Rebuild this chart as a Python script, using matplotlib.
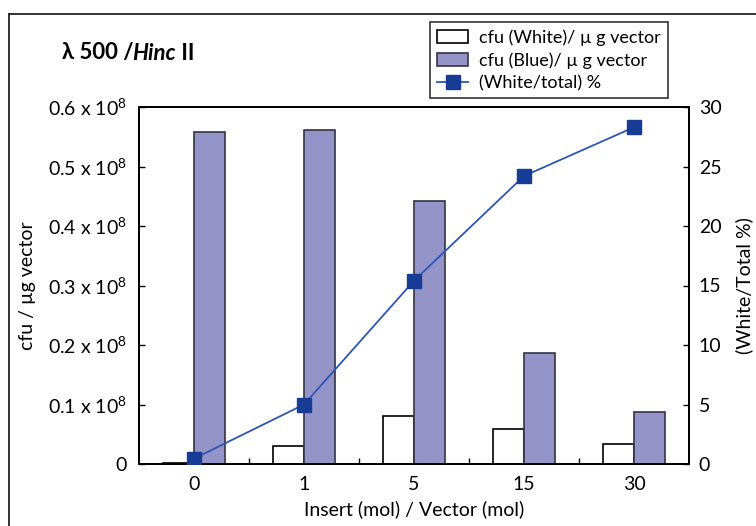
import numpy as np
import matplotlib
matplotlib.use("Agg")
import matplotlib.pyplot as plt
from matplotlib.lines import Line2D
from matplotlib.patches import Patch

plt.rcParams['font.family'] = ['Lato', 'DejaVu Sans']
plt.rcParams['mathtext.fontset'] = 'custom'
plt.rcParams['mathtext.rm'] = 'Lato'
plt.rcParams['mathtext.it'] = 'Lato:italic'
plt.rcParams['mathtext.bf'] = 'Lato:bold'

# ---- data (cfu in units of 1e8 per ug vector) ----
categories = ["0", "1", "5", "15", "30"]
cfu_white = [0.001, 0.030, 0.081, 0.058, 0.034]
cfu_blue = [0.558, 0.561, 0.442, 0.187, 0.087]
white_pct = [0.45, 5.0, 15.4, 24.2, 28.3]
left_ticks = [0, 0.1, 0.2, 0.3, 0.4, 0.5, 0.6]
left_labels = ["0"] + [f"{v:.1f} x 10$^{{\\mathrm{{8}}}}$" for v in left_ticks[1:]]
right_ticks = [0, 5, 10, 15, 20, 25, 30]

BLUE_FILL = "#9494c8"
MARK = "#163c96"
LINE = "#2a56b8"

fig = plt.figure(figsize=(7.56, 5.26), dpi=100)
ax = fig.add_axes([139 / 756, 62 / 526, 550 / 756, 357 / 526])
ax2 = ax.twinx()

x = np.arange(len(categories))
w = 0.28
ax.bar(x - w / 2, cfu_white, w, color="white", edgecolor="black", linewidth=1.2)
ax.bar(x + w / 2, cfu_blue, w, color=BLUE_FILL, edgecolor="#333344", linewidth=1.2)
ax2.plot(x, white_pct, color=LINE, linewidth=1.3, marker="s", markersize=10,
         markerfacecolor=MARK, markeredgecolor=MARK, zorder=5)

ax.set_xlim(-0.5, len(categories) - 0.5)
ax.set_ylim(0, 0.6)
ax2.set_ylim(0, 30)

ax.set_xticks(x)
ax.set_xticklabels(categories, fontsize=14)
ax.set_xticks(np.arange(0.5, len(categories) - 1, 1), minor=True)
ax.tick_params(axis="x", which="major", length=0, pad=9)
ax.tick_params(axis="x", which="minor", direction="in", length=4, width=1)

ax.set_yticks(left_ticks)
ax.set_yticklabels(left_labels, fontsize=14)
ax.tick_params(axis="y", direction="in", length=4, width=1, pad=9)
ax2.set_yticks(right_ticks)
ax2.tick_params(axis="y", direction="in", length=4, width=1, pad=7, labelsize=14)

for a in (ax, ax2):
    for s in a.spines.values():
        s.set_linewidth(1.3)

ax.set_xlabel("Insert (mol) / Vector (mol)", fontsize=14, labelpad=5)
ax.set_ylabel("cfu / µg vector", fontsize=14, labelpad=8)
ax2.set_ylabel("(White/Total %)", fontsize=14, labelpad=10)

# legend
handles = [
    Patch(facecolor="white", edgecolor="black", linewidth=1.2),
    Patch(facecolor=BLUE_FILL, edgecolor="#333344", linewidth=1.2),
    Line2D([], [], color=LINE, linewidth=1.3, marker="s", markersize=10,
           markerfacecolor=MARK, markeredgecolor=MARK),
]
labels = ["cfu (White)/ µ g vector", "cfu (Blue)/ µ g vector", "(White/total) %"]
leg = fig.legend(handles, labels, loc="upper left",
                 bbox_to_anchor=(430 / 756, 1 - 22 / 526), fontsize=13,
                 fancybox=False, framealpha=1, edgecolor="#333333",
                 handlelength=1.7, handleheight=0.7, labelspacing=0.35,
                 borderpad=0.4, handletextpad=0.6, borderaxespad=0)
leg.get_frame().set_linewidth(1.2)

# title in pieces: bold, bold italic, bold
t1 = fig.text(62 / 756, 1 - 53 / 526, "λ 500 /", fontsize=16, fontweight="bold",
              va="center", ha="left")
t2 = fig.text(0, 0, "Hinc", fontsize=16, fontweight="bold", fontstyle="italic")
t3 = fig.text(0, 0, " II", fontsize=16, fontweight="bold")
fig.canvas.draw()
r = fig.canvas.get_renderer()
bb = t1.get_window_extent(r)
t2.set_position((bb.x1 / fig.bbox.width - 0.002, bb.y0 / fig.bbox.height))
t2.set_va("bottom")
bb2 = t2.get_window_extent(r)
t3.set_position((bb2.x1 / fig.bbox.width, bb.y0 / fig.bbox.height))
t3.set_va("bottom")

# outer frame (cropped box)
fig.add_artist(Line2D([9 / 756, 1.01], [1 - 14 / 526] * 2, transform=fig.transFigure,
                      color="#222222", linewidth=1.3))
fig.add_artist(Line2D([9 / 756] * 2, [-0.01, 1 - 14 / 526], transform=fig.transFigure,
                      color="#222222", linewidth=1.3))

fig.savefig("out.png", dpi=100)
